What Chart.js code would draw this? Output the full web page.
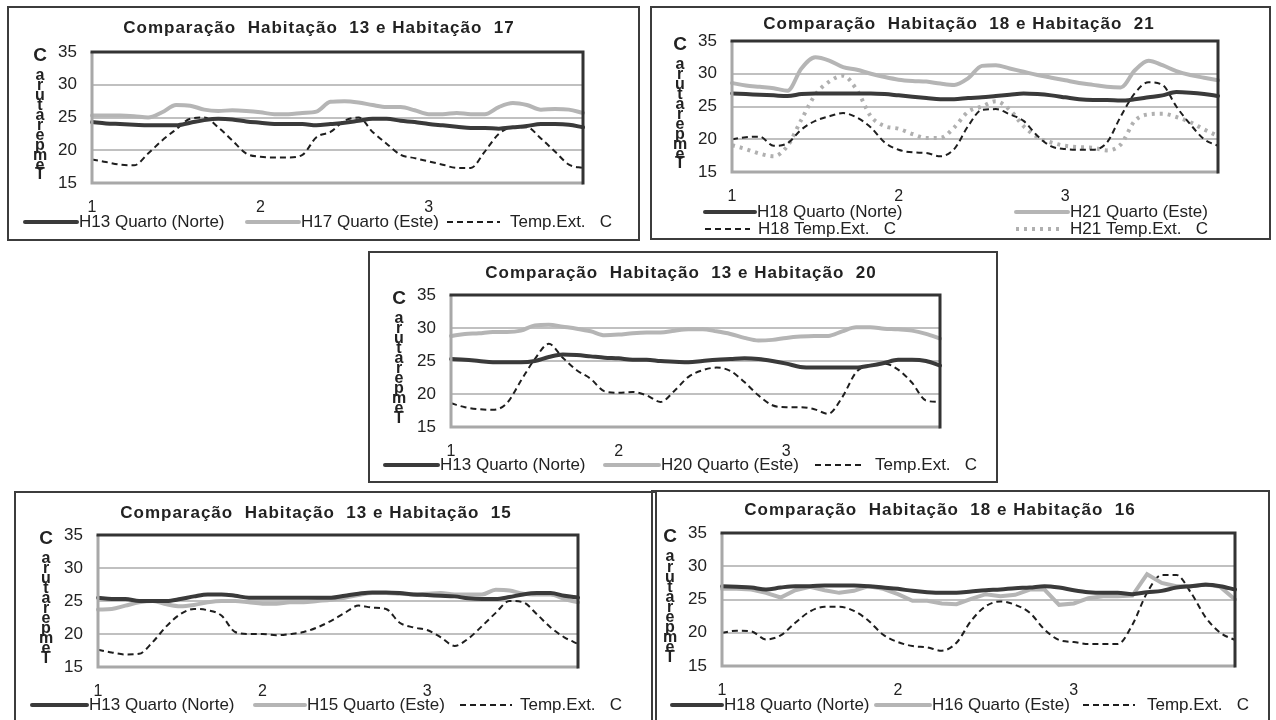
<!DOCTYPE html>
<html>
<head>
<meta charset="utf-8">
<script src="https://cdn.jsdelivr.net/npm/chart.js@4.4.1/dist/chart.umd.min.js"></script>
<style>
  html, body { margin: 0; padding: 0; background: #fff; }
  body { width: 1276px; height: 720px; position: relative; overflow: hidden; }
  .box { position: absolute; box-sizing: border-box; border: 2px solid #3c3c3c; }
  canvas { position: absolute; }
</style>
</head>
<body>
<script>
// Dias (rótulos do eixo x) e posição de cada dia na série (pontos de 2 em 2 horas)
const dayLabels = ['1', '2', '3'];
const dayStart = [0, 12, 24];
const nPoints = 36;
const yTicks = [15, 20, 25, 30, 35];

// Habitação 13 e 17
const c1_h13Norte = [24.3,24.1,24.0,23.9,23.8,23.8,23.8,24.2,24.6,24.8,24.7,24.4,24.2,24.0,24.0,24.0,23.8,24.0,24.2,24.5,24.8,24.8,24.5,24.3,24.0,23.8,23.6,23.4,23.4,23.3,23.5,23.7,24.0,24.0,23.9,23.5];
const c1_h17Este  = [25.3,25.3,25.3,25.2,25.0,25.8,26.9,26.8,26.2,26.0,26.1,26.0,25.8,25.5,25.5,25.7,25.9,27.4,27.5,27.3,26.9,26.6,26.6,26.1,25.5,25.5,25.7,25.5,25.5,26.6,27.2,26.9,26.2,26.3,26.2,25.7];
const c1_tempExt  = [18.6,18.2,17.8,17.7,19.5,21.5,23.2,24.8,25.0,23.5,21.5,19.5,19.0,18.9,18.9,19.3,22.0,22.8,24.5,25.0,22.8,21.0,19.3,18.8,18.3,17.8,17.3,17.3,19.8,22.5,23.5,23.5,21.8,19.8,17.8,17.3];

// Habitação 18 e 21
const c2_h18Norte   = [27.0,26.9,26.8,26.7,26.6,26.9,27.0,27.0,27.0,27.0,27.0,26.9,26.7,26.5,26.3,26.1,26.1,26.3,26.4,26.6,26.8,27.0,26.9,26.7,26.4,26.1,26.0,26.0,25.9,26.1,26.4,26.7,27.2,27.1,26.9,26.6];
const c2_h21Este    = [28.6,28.2,28.0,27.8,27.4,30.8,32.5,32.0,31.0,30.6,30.0,29.5,29.1,28.9,28.8,28.5,28.3,29.3,31.2,31.3,30.8,30.3,29.8,29.4,29.0,28.6,28.3,28.0,27.9,30.5,32.0,31.3,30.4,29.8,29.4,29.0];
const c2_h18TempExt = [20.0,20.3,20.4,19.0,19.4,21.5,22.8,23.5,24.0,23.3,21.8,19.5,18.4,18.0,17.9,17.4,18.5,22.0,24.5,24.6,23.8,22.8,20.5,18.9,18.5,18.4,18.4,19.5,23.5,27.0,28.7,28.3,25.0,22.3,20.0,19.0];
const c2_h21TempExt = [19.1,18.5,17.8,17.4,19.0,23.0,26.8,28.8,29.7,27.5,23.5,22.0,21.6,20.8,20.2,20.2,21.8,24.2,25.0,25.8,24.5,22.0,20.3,19.5,19.0,18.8,18.7,18.3,19.2,22.8,23.8,23.9,23.4,22.6,21.5,20.5];

// Habitação 13 e 20
const c3_h13Norte = [25.3,25.2,25.0,24.8,24.8,24.8,25.0,25.6,26.0,25.9,25.7,25.5,25.4,25.2,25.2,25.0,24.9,24.8,25.0,25.2,25.3,25.4,25.3,25.0,24.6,24.1,24.0,24.0,24.0,24.0,24.3,24.7,25.2,25.2,25.0,24.3];
const c3_h20Este  = [28.8,29.1,29.2,29.4,29.4,29.6,30.4,30.5,30.2,29.9,29.5,28.9,29.0,29.2,29.3,29.3,29.6,29.8,29.8,29.5,29.1,28.5,28.1,28.2,28.5,28.7,28.8,28.8,29.5,30.1,30.1,29.9,29.8,29.6,29.1,28.4];
const c3_tempExt  = [18.6,18.0,17.7,17.6,18.6,22.0,25.3,27.6,25.5,23.6,22.3,20.4,20.2,20.3,19.8,18.8,20.5,22.6,23.6,24.0,23.5,21.8,19.8,18.3,18.0,18.0,17.7,17.0,19.5,23.3,24.4,24.6,23.7,21.7,19.0,18.8];

// Habitação 13 e 15
const c4_h13Norte = [25.5,25.3,25.3,25.0,25.0,25.0,25.3,25.7,26.0,26.0,25.8,25.5,25.5,25.5,25.5,25.5,25.5,25.5,25.8,26.1,26.3,26.3,26.2,26.0,25.9,25.8,25.7,25.4,25.3,25.3,25.6,26.0,26.2,26.2,25.8,25.5];
const c4_h15Este  = [23.7,23.8,24.3,24.8,25.0,24.5,24.2,24.4,24.8,25.0,25.0,24.8,24.6,24.6,24.8,24.8,25.0,25.2,25.5,25.9,26.2,26.2,26.1,26.0,26.1,26.2,26.0,26.0,26.0,26.7,26.6,26.1,26.0,26.0,25.3,24.8];
const c4_tempExt  = [17.6,17.2,16.9,17.0,18.8,21.2,23.0,23.8,23.6,22.8,20.3,20.0,20.0,19.8,20.0,20.3,21.0,22.0,23.2,24.3,24.0,23.8,21.7,21.0,20.6,19.5,18.2,19.3,21.2,23.2,25.0,24.8,23.0,21.0,19.5,18.5];

// Habitação 18 e 16
const c5_h18Norte = [27.0,26.9,26.8,26.5,26.8,27.0,27.0,27.1,27.1,27.1,27.0,26.8,26.6,26.3,26.1,26.0,26.0,26.2,26.4,26.5,26.7,26.8,27.0,26.8,26.4,26.1,26.0,26.0,25.8,26.1,26.3,26.8,27.0,27.2,27.0,26.5];
const c5_h16Este  = [26.6,26.6,26.5,26.0,25.3,26.4,26.9,26.4,26.0,26.3,27.0,26.6,25.8,24.8,24.8,24.4,24.3,25.1,25.8,25.5,25.7,26.5,26.5,24.2,24.4,25.2,25.5,25.5,25.6,28.8,27.5,27.0,27.0,27.3,26.9,25.0];
const c5_tempExt  = [20.0,20.3,20.2,19.0,19.6,21.5,23.2,23.9,23.9,23.3,21.8,19.7,18.6,18.0,17.8,17.3,18.5,21.8,24.0,24.7,24.2,23.0,20.5,18.9,18.6,18.3,18.3,18.3,21.2,26.0,28.7,28.7,26.0,22.3,20.0,18.9];

// rótulos do eixo x: número do dia no início de cada dia, vazio no resto
const xLabels = Array.from({ length: nPoints }, (_, i) => {
  const k = dayStart.indexOf(i);
  return k >= 0 ? dayLabels[k] : '';
});

const FONT = '"Liberation Sans", Arial, sans-serif';
Chart.defaults.font.family = FONT;
Chart.defaults.color = '#222';

// estilos das séries
const darkLine  = { borderColor: '#3a3a3a', borderWidth: 4, borderCapStyle: 'round', cubicInterpolationMode: 'monotone' };
const lightLine = { borderColor: '#b5b5b5', borderWidth: 4, borderCapStyle: 'round', cubicInterpolationMode: 'monotone' };
const dashLine  = { borderColor: '#1e1e1e', borderWidth: 2, borderDash: [6, 4], cubicInterpolationMode: 'monotone' };
const dotLine   = { borderColor: '#b0b0b0', borderWidth: 4, borderDash: [3, 5], cubicInterpolationMode: 'monotone' };

// desenha moldura do gráfico, título, eixo "Temperatura C" e legenda
const panelDecor = {
  id: 'panelDecor',
  afterDraw(chart, args, opts) {
    const { ctx, chartArea: a } = chart;
    ctx.save();
    ctx.lineWidth = 3;
    ctx.strokeStyle = '#a8a8a8';
    ctx.beginPath();
    ctx.moveTo(a.left, a.top);
    ctx.lineTo(a.left, a.bottom);
    ctx.lineTo(a.right, a.bottom);
    ctx.stroke();
    ctx.strokeStyle = '#333';
    ctx.beginPath();
    ctx.moveTo(a.left - 1.5, a.top);
    ctx.lineTo(a.right, a.top);
    ctx.lineTo(a.right, a.bottom + 1.5);
    ctx.stroke();

    ctx.fillStyle = '#222';
    ctx.textAlign = 'center';
    ctx.textBaseline = 'middle';
    ctx.font = 'bold 17px ' + FONT;
    ctx.letterSpacing = '1px';
    ctx.fillText(opts.title, opts.titleX, opts.titleY);
    ctx.letterSpacing = '0px';

    // título do eixo y, letras empilhadas
    const ax = a.left - 52;
    ctx.font = 'bold 19px ' + FONT;
    ctx.fillText('C', ax, a.top + 4);
    ctx.font = 'bold 16px ' + FONT;
    const letters = 'Temperatura'.split('');
    const top = a.top + 24, bot = a.bottom - 8;
    const step = (bot - top) / (letters.length - 1);
    letters.forEach((ch, i) => ctx.fillText(ch, ax, bot - i * step));

    // legenda
    ctx.textAlign = 'left';
    ctx.font = '17px ' + FONT;
    opts.legend.forEach(it => {
      const ds = chart.data.datasets[it.ds];
      ctx.strokeStyle = ds.borderColor;
      ctx.lineWidth = ds.borderWidth;
      ctx.lineCap = ds.borderCapStyle || 'butt';
      ctx.setLineDash(ds.borderDash || []);
      ctx.beginPath();
      ctx.moveTo(it.x0, it.y);
      ctx.lineTo(it.x1, it.y);
      ctx.stroke();
      ctx.setLineDash([]);
      ctx.fillStyle = '#222';
      ctx.fillText(ds.label, it.tx, it.y);
    });
    ctx.restore();
  }
};

function makePanel(cfg, datasets) {
  const [bl, bt, br, bb] = cfg.box;
  const [pl, pt, pr, pb] = cfg.plot;
  const w = br - bl, h = bb - bt;

  const frame = document.createElement('div');
  frame.className = 'box';
  Object.assign(frame.style, { left: bl + 'px', top: bt + 'px', width: w + 'px', height: h + 'px' });
  document.body.appendChild(frame);

  const canvas = document.createElement('canvas');
  canvas.width = w;
  canvas.height = h;
  Object.assign(canvas.style, { left: bl + 'px', top: bt + 'px' });
  document.body.appendChild(canvas);

  new Chart(canvas.getContext('2d'), {
    type: 'line',
    data: { labels: xLabels, datasets },
    options: {
      responsive: false,
      animation: false,
      devicePixelRatio: 1,
      layout: { padding: { left: 0, top: pt - bt, right: br - pr, bottom: 0 } },
      elements: { point: { radius: 0 } },
      scales: {
        x: {
          grid: { display: false, drawTicks: false, tickLength: 0 },
          border: { display: false },
          ticks: { autoSkip: false, maxRotation: 0, font: { size: 16 }, padding: 15, color: '#222' },
          afterFit: s => { s.height = bb - pb; }
        },
        y: {
          min: yTicks[0],
          max: yTicks[yTicks.length - 1],
          afterBuildTicks: s => { s.ticks = yTicks.map(v => ({ value: v })); },
          grid: { color: '#c0c0c0', lineWidth: 2, drawTicks: false, tickLength: 0 },
          border: { display: false },
          ticks: { font: { size: 17 }, padding: 15, color: '#222' },
          afterFit: s => { s.width = pl - bl; }
        }
      },
      plugins: {
        legend: { display: false },
        tooltip: { enabled: false },
        panelDecor: {
          title: cfg.title,
          titleX: cfg.titleX - bl,
          titleY: cfg.titleY - bt,
          legend: cfg.legend.map(it => ({ ds: it.ds, x0: it.x0 - bl, x1: it.x1 - bl, tx: it.tx - bl, y: it.y - bt }))
        }
      }
    },
    plugins: [panelDecor]
  });
}

makePanel({
  box: [7, 6, 640, 241], plot: [92, 52, 583, 183],
  title: 'Comparação  Habitação  13 e Habitação  17', titleX: 319, titleY: 28,
  legend: [
    { ds: 0, x0: 25, x1: 77, tx: 79, y: 222 },
    { ds: 1, x0: 247, x1: 299, tx: 301, y: 222 },
    { ds: 2, x0: 447, x1: 500, tx: 510, y: 222 }
  ]
}, [
  { label: 'H13 Quarto (Norte)', data: c1_h13Norte, ...darkLine },
  { label: 'H17 Quarto (Este)', data: c1_h17Este, ...lightLine },
  { label: 'Temp.Ext.   C', data: c1_tempExt, ...dashLine }
]);

makePanel({
  box: [650, 6, 1271, 240], plot: [732, 41, 1218, 172],
  title: 'Comparação  Habitação  18 e Habitação  21', titleX: 959, titleY: 24,
  legend: [
    { ds: 0, x0: 705, x1: 755, tx: 757, y: 212 },
    { ds: 1, x0: 1016, x1: 1068, tx: 1070, y: 212 },
    { ds: 2, x0: 705, x1: 750, tx: 758, y: 229 },
    { ds: 3, x0: 1016, x1: 1063, tx: 1070, y: 229 }
  ]
}, [
  { label: 'H18 Quarto (Norte)', data: c2_h18Norte, ...darkLine },
  { label: 'H21 Quarto (Este)', data: c2_h21Este, ...lightLine },
  { label: 'H18 Temp.Ext.   C', data: c2_h18TempExt, ...dashLine },
  { label: 'H21 Temp.Ext.   C', data: c2_h21TempExt, ...dotLine }
]);

makePanel({
  box: [368, 251, 998, 483], plot: [451, 295, 940, 427],
  title: 'Comparação  Habitação  13 e Habitação  20', titleX: 681, titleY: 273,
  legend: [
    { ds: 0, x0: 385, x1: 438, tx: 440, y: 465 },
    { ds: 1, x0: 605, x1: 659, tx: 661, y: 465 },
    { ds: 2, x0: 815, x1: 865, tx: 875, y: 465 }
  ]
}, [
  { label: 'H13 Quarto (Norte)', data: c3_h13Norte, ...darkLine },
  { label: 'H20 Quarto (Este)', data: c3_h20Este, ...lightLine },
  { label: 'Temp.Ext.   C', data: c3_tempExt, ...dashLine }
]);

makePanel({
  box: [14, 491, 657, 722], plot: [98, 535, 578, 667],
  title: 'Comparação  Habitação  13 e Habitação  15', titleX: 316, titleY: 513,
  legend: [
    { ds: 0, x0: 32, x1: 87, tx: 89, y: 705 },
    { ds: 1, x0: 255, x1: 305, tx: 307, y: 705 },
    { ds: 2, x0: 460, x1: 512, tx: 520, y: 705 }
  ]
}, [
  { label: 'H13 Quarto (Norte)', data: c4_h13Norte, ...darkLine },
  { label: 'H15 Quarto (Este)', data: c4_h15Este, ...lightLine },
  { label: 'Temp.Ext.   C', data: c4_tempExt, ...dashLine }
]);

makePanel({
  box: [651, 490, 1270, 722], plot: [722, 533, 1235, 666],
  title: 'Comparação  Habitação  18 e Habitação  16', titleX: 940, titleY: 510,
  legend: [
    { ds: 0, x0: 672, x1: 722, tx: 724, y: 705 },
    { ds: 1, x0: 876, x1: 930, tx: 932, y: 705 },
    { ds: 2, x0: 1083, x1: 1135, tx: 1147, y: 705 }
  ]
}, [
  { label: 'H18 Quarto (Norte)', data: c5_h18Norte, ...darkLine },
  { label: 'H16 Quarto (Este)', data: c5_h16Este, ...lightLine, cubicInterpolationMode: 'default', tension: 0 },
  { label: 'Temp.Ext.   C', data: c5_tempExt, ...dashLine }
]);
</script>
</body>
</html>
